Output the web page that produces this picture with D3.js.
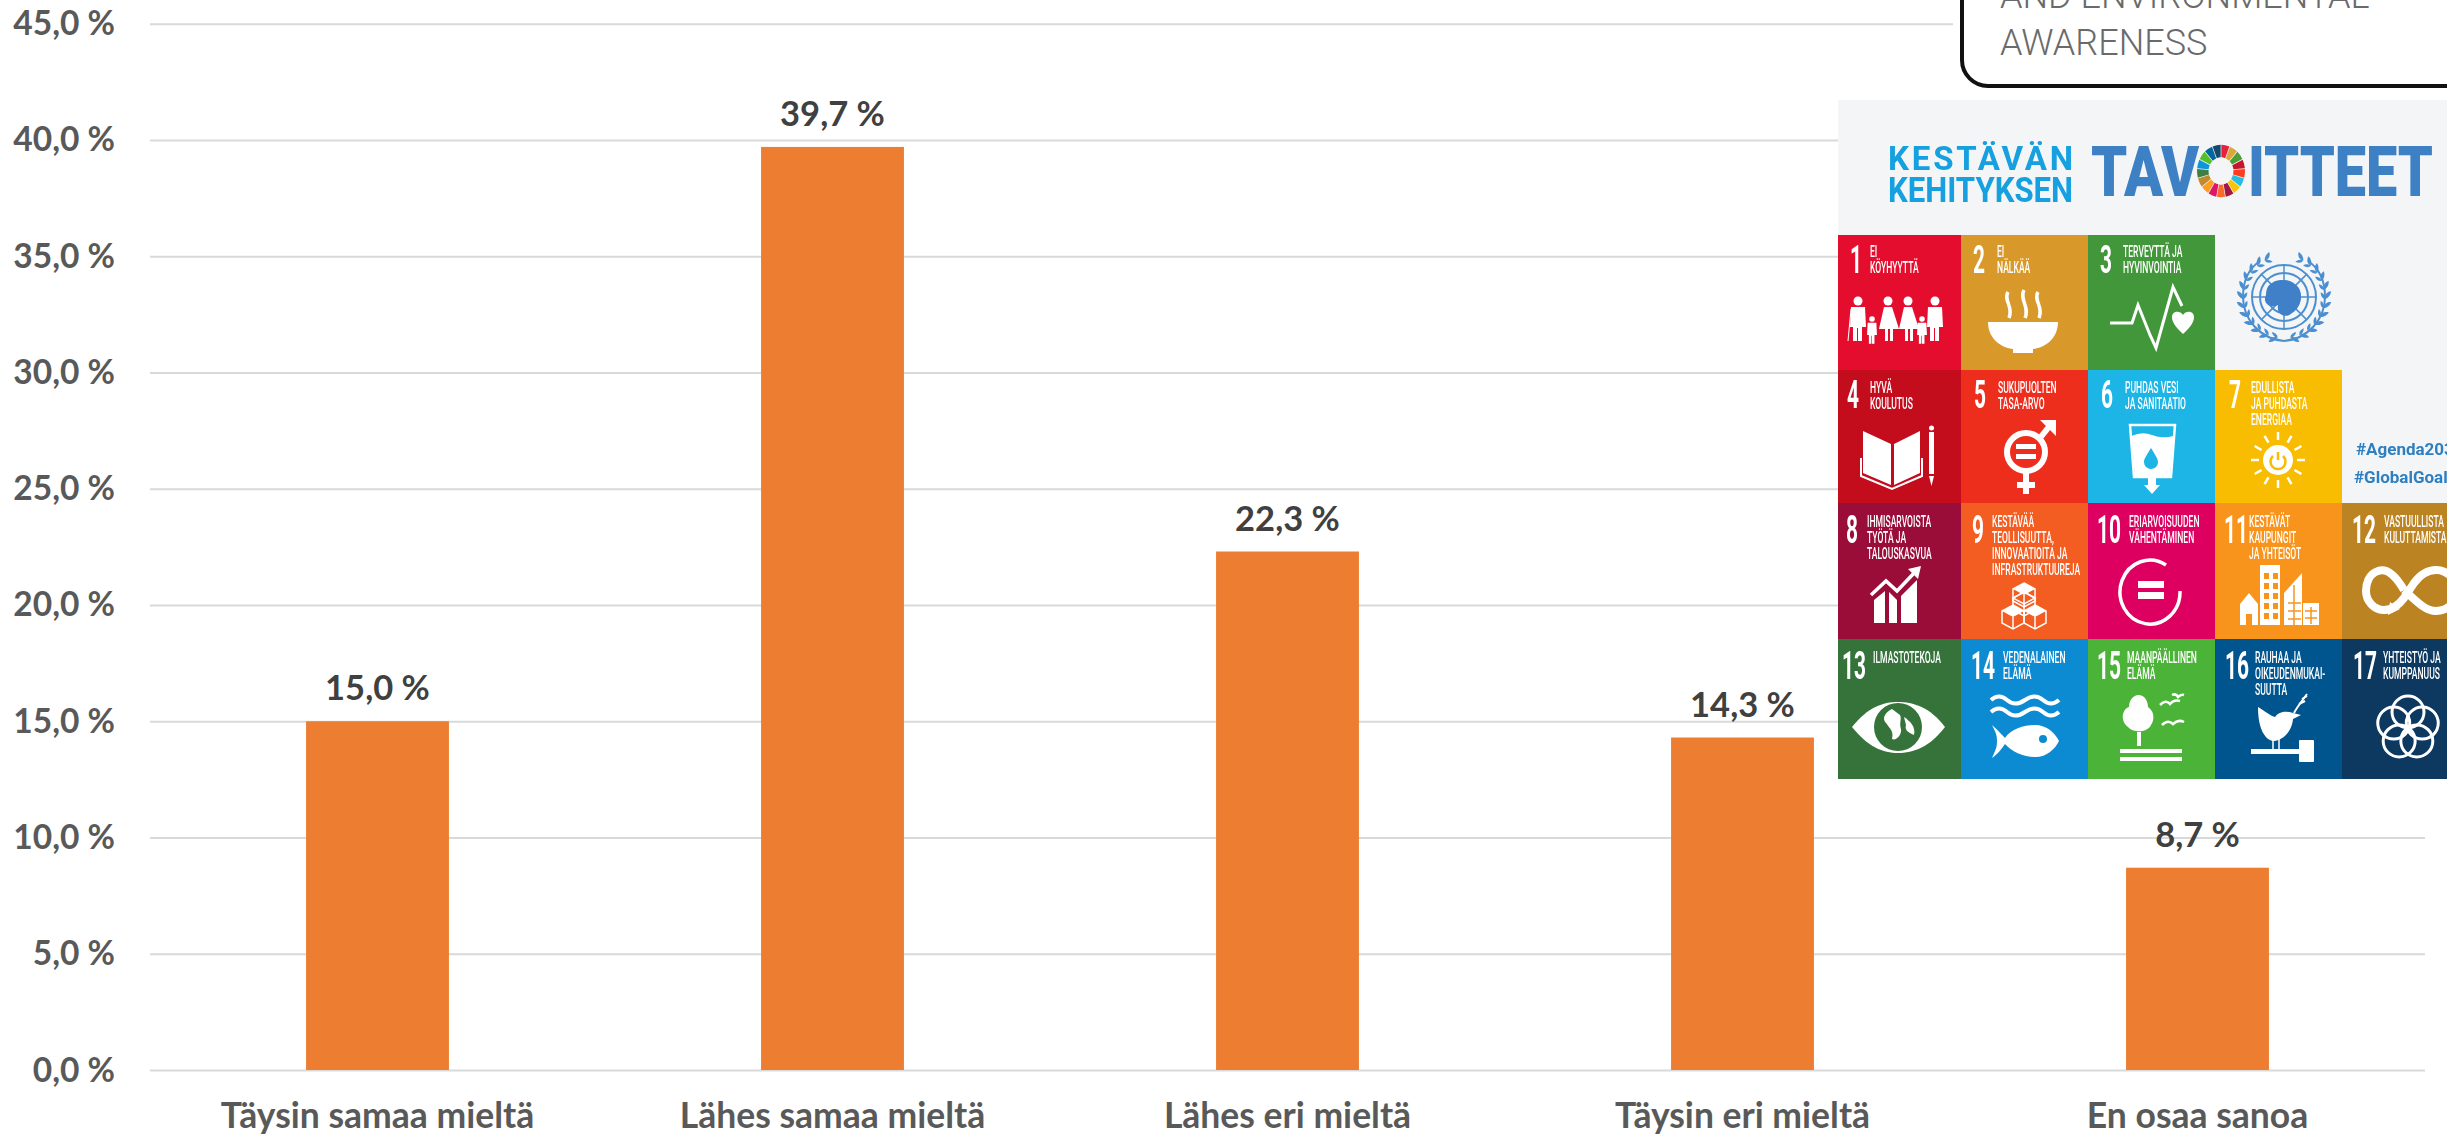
<!DOCTYPE html>
<html lang="fi"><head><meta charset="utf-8">
<script src="https://cdn.jsdelivr.net/npm/d3@7"></script>
<style>
html,body{margin:0;padding:0;background:#fff;overflow:hidden}
svg{display:block}
text{font-family:Lato,"Open Sans",sans-serif}
.tick-y,.tick-x{font-weight:700;fill:#595959}
.pic text{font-family:Roboto,sans-serif}
</style></head><body>
<svg id="chart" width="2447" height="1136"></svg>
<script>
// ---- chart data ----
const categories = ["Täysin samaa mieltä","Lähes samaa mieltä","Lähes eri mieltä","Täysin eri mieltä","En osaa sanoa"];
const values = [15.0,39.7,22.3,14.3,8.7];
const yTicks = [0,5,10,15,20,25,30,35,40,45];
const barColour = "#ED7D31";

// ---- inset picture content ----
const sdgNumbers = d3.range(1,18);
const sdgLabels = [["EI","KÖYHYYTTÄ"],["EI","NÄLKÄÄ"],["TERVEYTTÄ JA","HYVINVOINTIA"],["HYVÄ","KOULUTUS"],["SUKUPUOLTEN","TASA-ARVO"],["PUHDAS VESI","JA SANITAATIO"],["EDULLISTA","JA PUHDASTA","ENERGIAA"],["IHMISARVOISTA","TYÖTÄ JA","TALOUSKASVUA"],["KESTÄVÄÄ","TEOLLISUUTTA,","INNOVAATIOITA JA","INFRASTRUKTUUREJA"],["ERIARVOISUUDEN","VÄHENTÄMINEN"],["KESTÄVÄT","KAUPUNGIT","JA YHTEISÖT"],["VASTUULLISTA","KULUTTAMISTA"],["ILMASTOTEKOJA"],["VEDENALAINEN","ELÄMÄ"],["MAANPÄÄLLINEN","ELÄMÄ"],["RAUHAA JA","OIKEUDENMUKAI-","SUUTTA"],["YHTEISTYÖ JA","KUMPPANUUS"]];
const sdgColours = ["#E5102F","#D8992B","#43973B","#C40A1F","#EE2D1F","#1AB5E5","#F8BC00","#990B38","#F35D20","#DD0060","#F8931C","#BC8321","#35733B","#108BD2","#4BB438","#02558F","#0A3761"];
const sdgCell = [[0,0],[1,0],[2,0],[0,1],[1,1],[2,1],[3,1],[0,2],[1,2],[2,2],[3,2],[4,2],[0,3],[1,3],[2,3],[3,3],[4,3]];
const numberInset = [12,12,12,9,13,13,14,8,11,9,9,10,4,10,9,10,11];
const labelInset = [32,36,35,32,37,37,36,29,31,41,34,42,35,42,39,40,41];
const wheelColours = ["#E5243B","#DDA63A","#4C9F38","#C5192D","#FF3A21","#26BDE2","#FCC30B","#A21942","#FD6925","#DD1367","#FD9D24","#BF8B2E","#3F7E44","#0A97D9","#56C02B","#00689D","#19486A"];

// ---- chart ----
const svg = d3.select("#chart");
const plot = {left:150,right:2425,top:23.7,bottom:1070};
const x = d3.scaleBand().domain(categories).range([plot.left,plot.right]).paddingInner(0.686).paddingOuter(0.343);
const y = d3.scaleLinear().domain([0,45]).range([plot.bottom,plot.top]);

const yAxis = d3.axisLeft(y).tickValues(yTicks).tickSize(-(plot.right-plot.left)).tickPadding(35)
  .tickFormat(d=>d3.format(".1f")(d).replace(".",",")+" %");
const gy = svg.append("g").attr("transform",`translate(${plot.left},0)`).call(yAxis);
gy.select(".domain").remove();
gy.selectAll("line").attr("stroke","#D9D9D9").attr("stroke-width",2);
gy.selectAll("text").attr("class","tick-y").attr("font-size",33.5).attr("dy",11).attr("x",-35);

svg.append("g").selectAll("rect").data(values).join("rect")
  .attr("x",(d,i)=>x(categories[i])).attr("width",x.bandwidth())
  .attr("y",d=>y(d)).attr("height",d=>y(0)-y(d)).attr("fill",barColour);

svg.append("g").selectAll("text").data(values).join("text")
  .attr("x",(d,i)=>x(categories[i])+x.bandwidth()/2).attr("y",d=>y(d)-21)
  .attr("text-anchor","middle").attr("font-size",34.5).attr("font-weight",700).attr("fill","#404040")
  .text(d=>d3.format(".1f")(d).replace(".",",")+" %");

const xAxis = d3.axisBottom(x).tickSize(0).tickPadding(0);
const gx = svg.append("g").attr("transform",`translate(0,${plot.bottom})`).call(xAxis);
gx.select(".domain").remove();
gx.selectAll("text").attr("class","tick-x").attr("font-size",35.5).attr("y",58).attr("dy",0);

// ---- callout box (top right) ----
const box = svg.append("g").attr("class","pic");
box.append("rect").attr("x",1953).attr("y",0).attr("width",494).attr("height",96).attr("fill","#fff");
box.append("rect").attr("x",1962).attr("y",-60).attr("width",560).attr("height",146).attr("rx",26)
  .attr("fill","#fff").attr("stroke","#111").attr("stroke-width",4);
[["AND ENVIRONMENTAL",8],["AWARENESS",55]].forEach(([t,b])=>box.append("text").attr("x",2000).attr("y",b)
  .attr("font-size",36).attr("font-weight",300).attr("fill","#6a6a6a").text(t));

// ---- SDG inset ----
const defs = svg.append("defs");
defs.append("filter").attr("id","soft").append("feGaussianBlur").attr("stdDeviation",0.45);
defs.append("clipPath").attr("id","picClip").append("rect").attr("x",1838).attr("y",100).attr("width",609).attr("height",679);
const pic = svg.append("g").attr("class","pic").attr("clip-path","url(#picClip)").append("g").attr("filter","url(#soft)");
pic.append("rect").attr("x",1838).attr("y",100).attr("width",609).attr("height",679).attr("fill","#F4F5F7");

// title
pic.append("text").attr("x",1888).attr("y",170).attr("font-size",33).attr("font-weight",700).attr("fill","#12A0DF")
  .attr("textLength",185).attr("lengthAdjust","spacing").text("KESTÄVÄN");
pic.append("text").attr("x",1888).attr("y",202).attr("font-size",35).attr("font-weight",700).attr("fill","#12A0DF")
  .attr("textLength",185).attr("lengthAdjust","spacingAndGlyphs").text("KEHITYKSEN");
const big=(t,x0,x1)=>pic.append("text").attr("x",x0).attr("y",196).attr("font-size",70).attr("font-weight",900).attr("fill","#3C80C4")
  .attr("textLength",x1-x0).attr("lengthAdjust","spacingAndGlyphs").text(t);
big("TAV",2091,2199); big("ITTEET",2248,2433);
const wheel = d3.pie().value(1).sort(null)(wheelColours);
const arcW = d3.arc().innerRadius(13).outerRadius(25).padAngle(0.025);
pic.append("g").attr("transform","translate(2221,171) scale(0.96,1.05)").selectAll("path").data(wheel).join("path")
  .attr("d",arcW).attr("fill",d=>d.data);

// tiles
const colX=[1838,1961,2088,2215,2342,2470], rowY=[235,370,503,639,779];
const W='fill="#fff"', S='fill="none" stroke="#fff"';
const man=(x,k=1,a=66)=>`<circle cx="${x}" cy="${a}" r="${4.5*k}" ${W}/><path d="M${x-7*k} ${a+6*k}h${14*k}l${1*k} ${20*k}h${-4*k}v${14*k}h${-4*k}v${-13*k}h${-1*k}v${13*k}h${-4*k}v${-14*k}h${-3*k}z" ${W}/>`;
const woman=(x,a=66)=>`<circle cx="${x}" cy="${a}" r="4.500" ${W}/><path d="M${x-4} ${a+6}h8l7 22h-6v12h-3v-12h-2v12h-3v-12h-6z" ${W}/>`;
const icons={
1:()=>man(20)+man(34,.62,84)+woman(50)+woman(70)+man(84,.62,84)+man(97)+`<path d="M13 74L10 106" ${S} stroke-width="1"/>`,
2:()=>`<path d="M27 87H97C97 105 82 113 72 114V118H52V114C42 113 27 105 27 87Z" ${W}/><path d="M47 57C42 65 53 72 48 83M63 55C58 64 69 72 64 83M77 57C72 65 83 72 78 83" ${S} stroke-width="3.5"/>`,
3:()=>`<path d="M22 88H44L50 70L62 100L68 113L85 52L94 71" ${S} stroke-width="3"/><path d="M95 99C85 90 84 85 84 82C84 76 92 75 95 80C98 75 106 76 106 82C106 85 105 90 95 99Z" ${W}/>`,
4:(c)=>`<path d="M25 61L53 74V115L25 103ZM82 61L56 74V115L82 103Z" ${W}/><path d="M23 88V106L54 119L84 106V88" ${S} stroke-width="2"/><rect x="91" y="62" width="5" height="42" ${W}/><circle cx="93.500" cy="58" r="2.500" ${W}/><path d="M91 106h5l-2.500 10z" ${W}/>`,
5:()=>`<circle cx="65" cy="82" r="19" ${S} stroke-width="6"/><rect x="55" y="74" width="20" height="5" ${W}/><rect x="55" y="84" width="20" height="5" ${W}/><path d="M79 68L91 53" ${S} stroke-width="6"/><path d="M79 50H95V66Z" ${W}/><path d="M65 103V124M56 115H74" ${S} stroke-width="6"/>`,
6:(c)=>`<path d="M42 55H87L83 107H46Z" ${S} stroke-width="2.500"/><path d="M43.500 66Q54 61 64 65T85.500 66L82 107H47Z" ${W}/><path d="M63 78C58 86 56 89 56 92A7 7 0 0 0 70 92C70 89 68 86 63 78Z" fill="${c}"/><path d="M60 108H68V115H72L64 124L56 115H60Z" ${W}/>`,
7:()=>{let s="";for(let i=0;i<12;i++){const a=i*Math.PI/6;s+=`<line x1="${63+19*Math.cos(a)}" y1="${90+20*Math.sin(a)}" x2="${63+27*Math.cos(a)}" y2="${90+28*Math.sin(a)}" stroke="#fff" stroke-width="2.500"/>`}
  return s+`<circle cx="63" cy="90" r="15" ${W}/><path d="M58 86A7.500 7.500 0 1 0 68 86" fill="none" stroke="#F8BC00" stroke-width="2.500"/><line x1="63" y1="82" x2="63" y2="90" stroke="#F8BC00" stroke-width="2.500"/>`},
8:()=>`<path d="M36 120V97L47 88V120ZM51 120V89L59 97V120ZM63 120V93L79 77V120Z" ${W}/><path d="M33 92L48 78L59 88L78 68" ${S} stroke-width="3.500"/><path d="M70 66L83 63L80 76Z" ${W}/>`,
9:()=>{const cube=(x,y,f)=>`<path d="M${x} ${y-11}L${x+11} ${y-5}V${y+7}L${x} ${y+13}L${x-11} ${y+7}V${y-5}Z" fill="none" stroke="#fff" stroke-width="1.500"/><path d="M${x} ${y-11}L${x+11} ${y-5}L${x} ${y+1}L${x-11} ${y-5}Z" ${f?W:'fill="none" stroke="#fff" stroke-width="1.500"'}/><path d="M${x} ${y+1}V${y+13}" stroke="#fff" stroke-width="1.500"/>`;
  return cube(63,91,1)+cube(63,100,0)+cube(52,113,1)+cube(74,113,1)},
10:()=>`<path d="M78 62A30 32 0 1 0 92 88" ${S} stroke-width="3.500"/><rect x="50" y="78" width="26" height="7" ${W}/><rect x="50" y="89" width="26" height="7" ${W}/>`,
11:(c)=>{let w="";for(let r=0;r<5;r++)for(let k=0;k<2;k++)w+=`<rect x="${49+k*9}" y="${70+r*10}" width="5" height="6" fill="${c}"/>`;
  return `<rect x="45" y="62" width="20" height="60" ${W}/>`+w+`<path d="M25 101L34 90L43 101V122H37V111H31V122H25Z" ${W}/><path d="M69 122V90L87 70V122Z" ${W}/><path d="M73 100H86M73 108H86M73 116H86M79 82V122" stroke="${c}" stroke-width="1.500"/><rect x="88" y="100" width="16" height="22" ${W}/><path d="M90 108H102M90 115H102M96 104V121" stroke="${c}" stroke-width="1.500"/>`},
12:()=>`<path d="M62 87C52 70 44 65 36 68C26 71 24 82 24 88C24 98 32 107 42 107C50 107 56 103 62 95L72 80C78 72 86 67 94 67C106 67 116 78 116 88C116 98 106 108 94 108C84 108 76 100 62 87" ${S} stroke-width="8"/><path d="M48 99L58 106L46 112Z" ${W}/>`,
13:(c)=>`<path d="M14 88C30 68 45 63 60 63C75 63 92 68 107 88C92 108 75 114 60 114C45 114 30 108 14 88Z" ${W}/><circle cx="60" cy="88" r="24" fill="${c}"/><path d="M54 70C46 74 44 80 48 84C52 90 56 92 54 100C58 102 64 96 63 90C61 84 64 80 62 76ZM66 78C72 82 78 88 76 96C72 94 66 92 68 86Z" ${W}/>`,
14:(c)=>`<path d="M30 61Q38 54 46 61T64 61T82 61T98 61M30 73Q38 66 46 73T64 73T82 73T98 73" ${S} stroke-width="4"/><path d="M31 86C38 92 41 96 44 99C50 90 62 86 74 86C86 86 94 94 98 102C94 110 86 118 74 118C62 118 50 112 44 105C41 109 38 114 31 119C35 110 36 108 36 102C36 96 35 94 31 86Z" ${W}/><circle cx="82" cy="100" r="4" fill="${c}"/>`,
15:()=>`<path d="M50 56C58 56 60 64 60 68C66 72 67 80 63 86C60 93 46 95 40 88C32 82 34 70 41 68C41 62 44 57 50 56Z" ${W}/><rect x="49" y="93" width="4" height="14" ${W}/><rect x="32" y="110" width="62" height="4" ${W}/><rect x="32" y="118" width="62" height="4" ${W}/><path d="M72 66Q78 60 82 65Q86 60 92 62M84 56Q88 54 90 58Q93 55 96 56M74 86Q80 80 85 85Q90 80 96 83" ${S} stroke-width="2.500"/>`,
16:()=>`<path d="M43 68C50 72 54 76 60 78C64 72 72 72 78 74L86 76L78 80C77 92 68 102 58 102C48 100 43 86 43 68Z" ${W}/><path d="M79 74C82 68 87 62 92 55" ${S} stroke-width="2"/><path d="M84 65l6-3M87 60l5-3" ${S} stroke-width="2"/><path d="M58 100V110M64 100V110" ${S} stroke-width="1.500"/><rect x="36" y="110" width="54" height="5" ${W}/><rect x="84" y="101" width="15" height="22" rx="1" ${W}/>`,
17:()=>{let s="";for(let i=0;i<5;i++){const a=-Math.PI/2+i*2*Math.PI/5;s+=`<circle cx="${66+15*Math.cos(a)}" cy="${89+16*Math.sin(a)}" r="16" ${S} stroke-width="3"/>`}return s}
};
const tiles = pic.selectAll("g.tile").data(sdgNumbers).join("g").attr("class","tile")
  .attr("transform",(d,i)=>`translate(${colX[sdgCell[i][0]]},${rowY[sdgCell[i][1]]})`);
tiles.append("rect").attr("x",0).attr("y",0)
  .attr("width",(d,i)=>colX[sdgCell[i][0]+1]-colX[sdgCell[i][0]])
  .attr("height",(d,i)=>rowY[sdgCell[i][1]+1]-rowY[sdgCell[i][1]])
  .attr("fill",(d,i)=>sdgColours[i]);
tiles.append("text").attr("transform",(d,i)=>`translate(${numberInset[i]},${sdgCell[i][1]<2?38:40}) scale(0.55,1)`)
  .attr("font-size",38).attr("font-weight",700).attr("fill","#fff").text(d=>d);
tiles.each(function(d,i){
  const g=d3.select(this), b=sdgCell[i][1]<1?22:sdgCell[i][1]<2?23:24;
  sdgLabels[i].forEach((t,k)=>g.append("text").attr("transform",`translate(${labelInset[i]},${b+k*16}) scale(0.52,1)`)
    .attr("font-size",16.5).attr("font-weight",500).attr("fill","#fff").text(t));
  g.append("g").html(icons[d](sdgColours[i]));
});

// hashtags
pic.append("text").attr("x",2356).attr("y",455).attr("font-size",17).attr("font-weight",700).attr("fill","#2F7FC0").text("#Agenda2030");
pic.append("text").attr("x",2354).attr("y",483).attr("font-size",17).attr("font-weight",700).attr("fill","#2F7FC0").text("#GlobalGoals");

// UN emblem
const un=pic.append("g").attr("transform","translate(2284,297)").attr("fill","none").attr("stroke","#4B8FD0");
[8,16,24,32].forEach(r=>un.append("circle").attr("r",r).attr("stroke-width",2));
d3.range(0,180,45).forEach(a=>un.append("line").attr("x1",-32).attr("x2",32).attr("stroke-width",1.500).attr("transform",`rotate(${a})`));
un.append("path").attr("d","M-12 -14C-4 -20 8 -16 14 -10C20 -2 16 12 8 16C2 22 -8 18 -6 8C-14 12 -22 6 -18 -2C-18 -8 -16 -12 -12 -14Z").attr("fill","#3F80C8").attr("stroke","none");
[-1,1].forEach(s=>{const p=un.append("g").attr("transform",`scale(${s},1)`);
  d3.range(-62,88,13).forEach(a=>{
    p.append("path").attr("transform",`rotate(${a}) translate(41,0) rotate(-55)`)
      .attr("d","M0 0C3 -3 7 -3 10 0C7 2 3 2 0 0Z").attr("fill","#4B8FD0").attr("stroke","none");
    p.append("path").attr("transform",`rotate(${a}) translate(41,0) rotate(-125)`)
      .attr("d","M0 0C2 -2 5 -2 8 0C5 2 2 2 0 0Z").attr("fill","#4B8FD0").attr("stroke","none");
  });
  p.append("path").attr("d","M0 44C24 42 41 22 41 0C41 -14 36 -28 24 -36").attr("stroke-width",2);
});
</script>
</body></html>
